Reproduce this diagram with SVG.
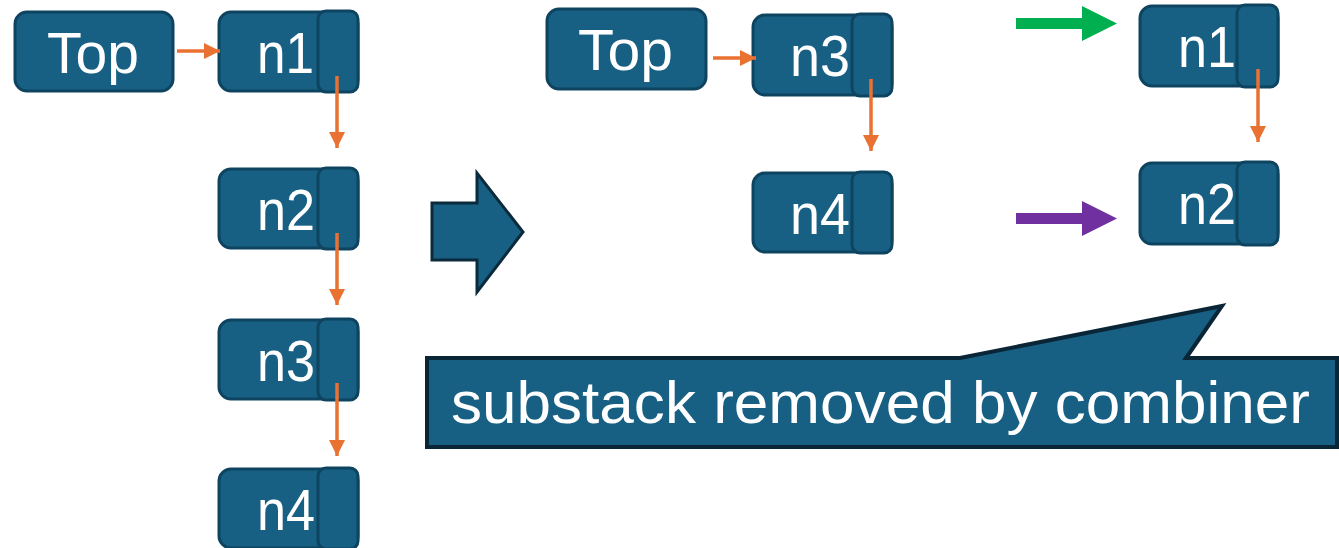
<svg xmlns="http://www.w3.org/2000/svg" width="1339" height="548" viewBox="0 0 1339 548">
  <style>
    .box { fill: #176083; stroke: #0e4460; stroke-width: 3; }
    .tab { fill: #176083; stroke: #0e4460; stroke-width: 3; }
    .lbl { fill: #ffffff; font-family: "Liberation Sans", Arial, sans-serif; font-size: 58px; }
    .big-lbl { font-size: 60px; }
    .link { stroke: #e97132; stroke-width: 3.5; fill: none; }
    .big { fill: #176083; stroke: #0b2b3c; stroke-width: 3; stroke-linejoin: miter; }
    .note { fill: #176083; stroke: #0a2535; stroke-width: 4; }
  </style>
  <defs>
    <marker id="head" viewBox="0 0 16 16" refX="16" refY="8" markerWidth="16" markerHeight="16" markerUnits="userSpaceOnUse" orient="auto">
      <path d="M0,0 L16,8 L0,16 Z" fill="#e97132"/>
    </marker>
  </defs>

  <!-- left stack -->
  <g id="top-a">
    <rect class="box" x="15" y="12" width="158" height="79" rx="12"/>
    <text class="lbl" x="47" y="73" textLength="92" lengthAdjust="spacingAndGlyphs">Top</text>
  </g>
  <g id="a-n1">
    <rect class="box" x="219" y="12" width="139" height="79" rx="12"/>
    <text class="lbl" x="257" y="73" textLength="57" lengthAdjust="spacingAndGlyphs">n1</text>
    <rect class="tab" x="318" y="11" width="40" height="81" rx="8"/>
  </g>
  <g id="a-n2">
    <rect class="box" x="219" y="169" width="139" height="79" rx="12"/>
    <text class="lbl" x="257" y="230" textLength="58" lengthAdjust="spacingAndGlyphs">n2</text>
    <rect class="tab" x="318" y="168" width="40" height="81" rx="8"/>
  </g>
  <g id="a-n3">
    <rect class="box" x="219" y="320" width="139" height="79" rx="12"/>
    <text class="lbl" x="257" y="381" textLength="58" lengthAdjust="spacingAndGlyphs">n3</text>
    <rect class="tab" x="318" y="319" width="40" height="81" rx="8"/>
  </g>
  <g id="a-n4">
    <rect class="box" x="219" y="469" width="139" height="79" rx="12"/>
    <text class="lbl" x="257" y="530" textLength="58" lengthAdjust="spacingAndGlyphs">n4</text>
    <rect class="tab" x="318" y="468" width="40" height="81" rx="8"/>
  </g>

  <!-- transition arrow -->
  <g id="transform">
    <polygon class="big" points="432,203 477,203 477,173 523,232 477,292 477,260 432,260"/>
  </g>

  <!-- middle stack -->
  <g id="top-b">
    <rect class="box" x="547" y="9" width="159" height="80" rx="12"/>
    <text class="lbl" x="578" y="70" textLength="95" lengthAdjust="spacingAndGlyphs">Top</text>
  </g>
  <g id="b-n3">
    <rect class="box" x="753" y="15" width="139" height="80" rx="12"/>
    <text class="lbl" x="790" y="76" textLength="60" lengthAdjust="spacingAndGlyphs">n3</text>
    <rect class="tab" x="852" y="14" width="40" height="82" rx="8"/>
  </g>
  <g id="b-n4">
    <rect class="box" x="753" y="173" width="139" height="79" rx="12"/>
    <text class="lbl" x="790" y="234" textLength="60" lengthAdjust="spacingAndGlyphs">n4</text>
    <rect class="tab" x="852" y="172" width="40" height="81" rx="8"/>
  </g>

  <!-- removed substack -->
  <g id="c-n1">
    <rect class="box" x="1140" y="6" width="138" height="80" rx="12"/>
    <text class="lbl" x="1178" y="67" textLength="58" lengthAdjust="spacingAndGlyphs">n1</text>
    <rect class="tab" x="1237" y="5" width="41" height="82" rx="8"/>
  </g>
  <g id="c-n2">
    <rect class="box" x="1140" y="163" width="138" height="81" rx="12"/>
    <text class="lbl" x="1178" y="224" textLength="58" lengthAdjust="spacingAndGlyphs">n2</text>
    <rect class="tab" x="1237" y="162" width="41" height="83" rx="8"/>
  </g>

  <!-- pointers -->
  <g id="pointers">
    <polygon fill="#00b050" points="1016,18 1082,18 1082,6 1117,23.5 1082,41 1082,29 1016,29"/>
    <polygon fill="#7030a0" points="1016,213 1082,213 1082,201 1117,218.5 1082,236 1082,224 1016,224"/>
  </g>

  <!-- callout -->
  <g id="callout">
    <path class="note" d="M427,358 L960,358 L1222,306 L1186,358 L1337,358 L1337,447 L427,447 Z"/>
    <text class="lbl big-lbl" x="451" y="423" textLength="859" lengthAdjust="spacingAndGlyphs">substack removed by combiner</text>
  </g>

  <!-- connectors -->
  <g id="connectors">
    <line class="link" x1="177" y1="51" x2="220" y2="51" marker-end="url(#head)"/>
    <line class="link" x1="337" y1="76" x2="337" y2="148" marker-end="url(#head)"/>
    <line class="link" x1="337" y1="233" x2="337" y2="305" marker-end="url(#head)"/>
    <line class="link" x1="337" y1="383" x2="337" y2="456" marker-end="url(#head)"/>
    <line class="link" x1="713" y1="58" x2="756" y2="58" marker-end="url(#head)"/>
    <line class="link" x1="871" y1="79" x2="871" y2="151" marker-end="url(#head)"/>
    <line class="link" x1="1258" y1="69" x2="1258" y2="142" marker-end="url(#head)"/>
  </g>
</svg>
